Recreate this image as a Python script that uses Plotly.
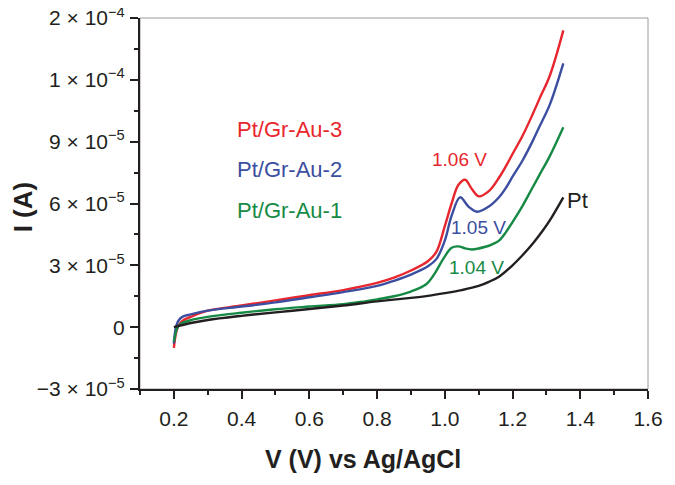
import plotly.graph_objects as go

# ---- data (current in units of 1e-5 A) ----
v_red = [0.20, 0.203, 0.207, 0.213, 0.225, 0.25, 0.30, 0.40, 0.50, 0.60, 0.70, 0.80, 0.85, 0.90, 0.95, 0.975,
         1.00, 1.02, 1.04, 1.06, 1.08, 1.10, 1.13, 1.16, 1.18, 1.20, 1.23, 1.26, 1.28, 1.31, 1.35]
i_red = [-1.0, -0.6, -0.25, 0.05, 0.3, 0.5, 0.8, 1.05, 1.3, 1.55, 1.8, 2.15, 2.4, 2.75, 3.2, 3.65,
         4.9, 6.0, 6.9, 7.15, 6.7, 6.35, 6.6, 7.25, 7.8, 8.4, 9.3, 10.35, 11.1, 12.2, 14.4]

v_blue = [0.20, 0.203, 0.207, 0.213, 0.225, 0.25, 0.30, 0.40, 0.50, 0.60, 0.70, 0.80, 0.85, 0.90, 0.95, 0.975,
          1.00, 1.02, 1.045, 1.07, 1.095, 1.13, 1.16, 1.18, 1.20, 1.23, 1.26, 1.28, 1.31, 1.35]
i_blue = [-0.8, -0.3, 0.05, 0.3, 0.5, 0.62, 0.8, 1.0, 1.2, 1.45, 1.7, 2.0, 2.25, 2.55, 2.95, 3.3,
          4.2, 5.4, 6.3, 5.85, 5.6, 5.85, 6.3, 6.75, 7.3, 8.1, 9.05, 9.75, 10.8, 12.8]

v_green = [0.20, 0.205, 0.21, 0.22, 0.25, 0.30, 0.40, 0.50, 0.60, 0.70, 0.75, 0.80, 0.85, 0.90, 0.945, 0.97,
           0.995, 1.02, 1.04, 1.06, 1.08, 1.12, 1.14, 1.16, 1.18, 1.20, 1.23, 1.26, 1.28, 1.31, 1.35]
i_green = [-0.7, -0.3, -0.05, 0.15, 0.34, 0.5, 0.7, 0.87, 1.0, 1.12, 1.22, 1.35, 1.5, 1.73, 2.08, 2.6,
           3.3, 3.85, 3.92, 3.82, 3.77, 3.9, 4.02, 4.2, 4.6, 5.1, 5.9, 6.8, 7.4, 8.3, 9.7]

v_pt = [0.20, 0.25, 0.30, 0.40, 0.50, 0.60, 0.70, 0.80, 0.90, 0.95, 1.00, 1.05, 1.10, 1.13, 1.16, 1.20,
        1.23, 1.26, 1.29, 1.31, 1.35]
i_pt = [0.0, 0.2, 0.35, 0.55, 0.72, 0.88, 1.05, 1.25, 1.42, 1.52, 1.65, 1.8, 2.0, 2.2, 2.45, 3.0,
        3.5, 4.06, 4.7, 5.18, 6.3]

series_names = ["Pt/Gr-Au-3", "Pt/Gr-Au-2", "Pt/Gr-Au-1", "Pt"]
series_colors = ["#e8262d", "#3b4ea0", "#168a45", "#231f20"]

y_tickvals = [-3, 0, 3, 6, 9, 12, 15]
y_ticktext = ["−3 × 10<sup>−5</sup>", "0", "3 × 10<sup>−5</sup>", "6 × 10<sup>−5</sup>",
              "9 × 10<sup>−5</sup>", "1 × 10<sup>−4</sup>", "2 × 10<sup>−4</sup>"]
y_minor = [-1.5, 1.5, 4.5, 7.5, 10.5, 13.5]
x_tickvals = [0.2, 0.4, 0.6, 0.8, 1.0, 1.2, 1.4, 1.6]
x_ticktext = ["0.2", "0.4", "0.6", "0.8", "1.0", "1.2", "1.4", "1.6"]
x_minor = [0.1, 0.3, 0.5, 0.7, 0.9, 1.1, 1.3, 1.5]

SCALE = 1e-5

fig = go.Figure()
for v, i, name, col in [(v_red, i_red, series_names[0], series_colors[0]),
                        (v_blue, i_blue, series_names[1], series_colors[1]),
                        (v_green, i_green, series_names[2], series_colors[2]),
                        (v_pt, i_pt, series_names[3], series_colors[3])]:
    fig.add_trace(go.Scatter(x=v, y=[k * SCALE for k in i], mode="lines", name=name,
                             line=dict(color=col, width=2.4, shape="spline", smoothing=1.0),
                             showlegend=False))

fnt = "Liberation Sans, Arial, sans-serif"
tick_col = "#231f20"
ann = [
    dict(x=0.54, y=9.58e-5, text="Pt/Gr-Au-3", color=series_colors[0], size=22),
    dict(x=0.54, y=7.65e-5, text="Pt/Gr-Au-2", color=series_colors[1], size=22),
    dict(x=0.54, y=5.66e-5, text="Pt/Gr-Au-1", color=series_colors[2], size=22),
    dict(x=1.043, y=8.13e-5, text="1.06 V", color=series_colors[0], size=19),
    dict(x=1.099, y=4.84e-5, text="1.05 V", color=series_colors[1], size=19),
    dict(x=1.094, y=2.90e-5, text="1.04 V", color=series_colors[2], size=19),
    dict(x=1.392, y=6.15e-5, text="Pt", color=series_colors[3], size=22),
]
for a in ann:
    fig.add_annotation(x=a["x"], y=a["y"], text=a["text"], showarrow=False,
                       font=dict(family=fnt, size=a["size"], color=a["color"]),
                       xanchor="center", yanchor="middle")

# axis titles (placed as in the reference)
fig.add_annotation(xref="paper", yref="paper", x=0.438, y=-0.19, text="<b>V (V) vs Ag/AgCl</b>",
                   showarrow=False, xanchor="center", yanchor="middle",
                   font=dict(family=fnt, size=25, color=tick_col))
fig.add_annotation(xref="paper", yref="paper", x=-0.23, y=0.49, text="<b>I (A)</b>", textangle=-90,
                   showarrow=False, xanchor="center", yanchor="middle",
                   font=dict(family=fnt, size=26, color=tick_col))

fig.add_shape(type="rect", xref="paper", yref="paper", x0=0, x1=1, y0=0, y1=1,
              line=dict(color="#9a9a9a", width=1), layer="below")

fig.update_layout(
    width=675, height=485,
    margin=dict(l=132, r=35, t=10, b=104, autoexpand=False),
    paper_bgcolor="white", plot_bgcolor="white",
    font=dict(family=fnt, color=tick_col),
    xaxis=dict(range=[0.1, 1.6], tickvals=x_tickvals, ticktext=x_ticktext,
               showgrid=False, zeroline=False, showline=True, linecolor=tick_col, linewidth=2,
               ticks="outside", ticklen=8, tickwidth=2, tickcolor=tick_col,
               tickfont=dict(family=fnt, size=21, color=tick_col), automargin=False,
               ticklabeloverflow="allow", ticklabelstandoff=2,
               minor=dict(tickvals=x_minor, ticks="outside",
                          ticklen=4, tickwidth=2, tickcolor=tick_col, showgrid=False)),
    yaxis=dict(range=[-3e-5, 1.5e-4], tickvals=[t * SCALE for t in y_tickvals], ticktext=y_ticktext,
               showgrid=False, zeroline=False, showline=True, linecolor=tick_col, linewidth=2,
               ticks="outside", ticklen=8, tickwidth=2, tickcolor=tick_col,
               tickfont=dict(family=fnt, size=21, color=tick_col), automargin=False,
               ticklabeloverflow="allow", ticklabelstandoff=1,
               minor=dict(tickvals=[t * SCALE for t in y_minor],
                          ticks="outside", ticklen=4, tickwidth=2, tickcolor=tick_col, showgrid=False)),
)

fig.write_html("out.html")
